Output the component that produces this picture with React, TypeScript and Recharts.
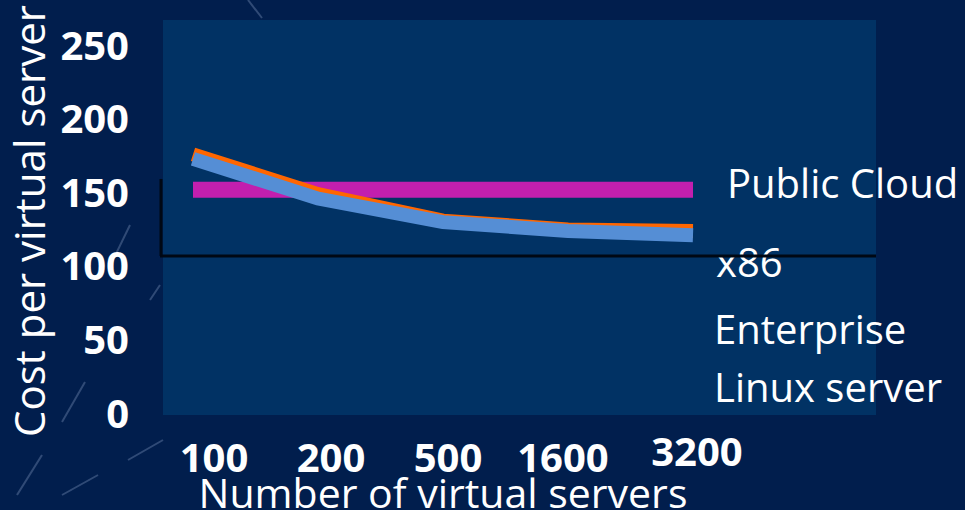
import { Line, LineChart, ReferenceLine, XAxis, YAxis } from "recharts";

const serverCounts = ["100", "200", "500", "1600", "3200"];
const x86Cost = [172, 145, 129, 123, 120];
const x86CostUpper = [175, 148, 130, 124, 123];
const publicCloudCost = [151, 151, 151, 151, 151];
const costTicks = [0, 50, 100, 150, 200, 250];
const baselineCost = 106;

const data = serverCounts.map((servers, i) => ({
  servers,
  x86: x86Cost[i],
  x86Upper: x86CostUpper[i],
  cloud: publicCloudCost[i],
}));

const FONT = "'Open Sans', 'Liberation Sans', sans-serif";
const BG = "#011e4d";
const PLOT_BG = "#013264";

// tick labels sit a little off their category, like hand-placed text boxes
const xTickShift = [21, 13, 5, -5, 4];
const xTickLift = [0, 0, 0, 0, 6];

function CostTick(props: any) {
  const { y, payload } = props;
  return (
    <text
      x={129}
      y={y}
      textAnchor="end"
      dominantBaseline="central"
      fill="#fff"
      fontFamily={FONT}
      fontWeight={700}
      fontSize={40}
    >
      {payload.value}
    </text>
  );
}

function ServerTick(props: any) {
  const { x, y, payload, index } = props;
  return (
    <text
      x={x + xTickShift[index]}
      y={y + 52 - xTickLift[index]}
      textAnchor="middle"
      fill="#fff"
      fontFamily={FONT}
      fontWeight={700}
      fontSize={40}
    >
      {payload.value}
    </text>
  );
}

// old chart axes: black baseline plus a short upright stub at its left end
function AxisStub(props: any) {
  const { x1, y1, x2, y2 } = props;
  return (
    <g stroke="#000814" strokeWidth={3}>
      <line x1={x1 - 3} y1={y1} x2={x2} y2={y2} />
      <line x1={x1 - 2} y1={y1} x2={x1 - 2} y2={y1 - 77} />
    </g>
  );
}

// faint streaks of the slide backdrop
const streaks = [
  [85, 382, 62, 422],
  [42, 455, 17, 495],
  [163, 440, 128, 460],
  [98, 475, 62, 495],
  [130, 225, 112, 262],
  [160, 285, 150, 300],
  [248, 0, 262, 18],
];

export default function App() {
  return (
    <div
      style={{
        position: "absolute",
        left: 0,
        top: 0,
        width: 965,
        height: 510,
        overflow: "hidden",
        background: BG,
      }}
    >
      <LineChart
        width={965}
        height={510}
        data={data}
        margin={{ top: 44, right: 89, bottom: 38, left: 63 }}
      >
        {streaks.map(([a, b, c, d], i) => (
          <line key={i} x1={a} y1={b} x2={c} y2={d} stroke="#9fb4d6" strokeOpacity={0.3} strokeWidth={2} />
        ))}
        <rect x={163} y={20} width={713} height={395} fill={PLOT_BG} />
        <XAxis
          dataKey="servers"
          height={60}
          padding={{ left: 30, right: 183 }}
          axisLine={false}
          tickLine={false}
          tick={<ServerTick />}
          interval={0}
        />
        <YAxis
          width={100}
          domain={[0, 250]}
          ticks={costTicks}
          axisLine={false}
          tickLine={false}
          tick={<CostTick />}
        />
        <ReferenceLine y={baselineCost} shape={<AxisStub />} />
        <Line
          dataKey="cloud"
          stroke="#c21fae"
          strokeWidth={16}
          strokeLinecap="butt"
          dot={false}
          activeDot={false}
          isAnimationActive={false}
        />
        <Line
          dataKey="x86Upper"
          stroke="#ff6600"
          strokeWidth={14}
          strokeLinecap="butt"
          dot={false}
          activeDot={false}
          isAnimationActive={false}
        />
        <Line
          dataKey="x86"
          stroke="#558ed5"
          strokeWidth={14}
          strokeLinecap="butt"
          dot={false}
          activeDot={false}
          isAnimationActive={false}
        />
        <text
          x={45}
          y={221}
          transform="rotate(-90 45 221)"
          textAnchor="middle"
          fill="#fff"
          fontFamily={FONT}
          fontSize={42}
        >
          Cost per virtual server
        </text>
        <text x={443} y={508} textAnchor="middle" fill="#fff" fontFamily={FONT} fontSize={41}>
          Number of virtual servers
        </text>
        <g fill="#fff" fontFamily={FONT} fontSize={40}>
          <text x={727} y={198}>Public Cloud</text>
          <text x={716} y={277}>x86</text>
          <text x={714} y={344}>Enterprise</text>
          <text x={714} y={402}>Linux server</text>
        </g>
      </LineChart>
    </div>
  );
}
